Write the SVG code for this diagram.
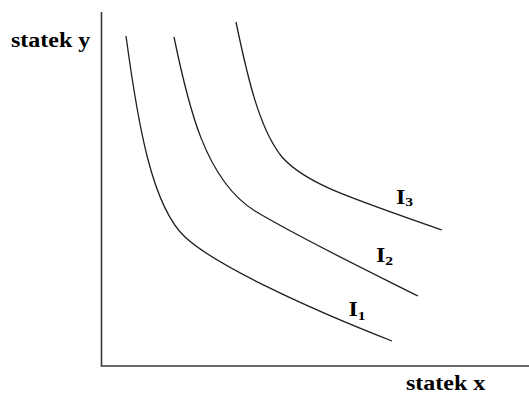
<svg xmlns="http://www.w3.org/2000/svg" width="529" height="394" viewBox="0 0 529 394">
<style>
.axis{fill:none;stroke:#3a3a3a;stroke-width:1.6}
.curve{fill:none;stroke:#1e1e1e;stroke-width:1.3}
.lbl{font-family:"Liberation Serif","Times New Roman",serif;font-weight:bold;font-size:20px;fill:#000}
.sub{font-size:13px}
</style>
<rect width="529" height="394" fill="#fff"/>
<g id="axes">
<path class="axis" d="M101.5,12 V366 H529"/>
</g>
<g id="connectors">
<path id="I1-curve" class="curve" d="M126,36 C138,125 152,206 185,237 C214,264 300,305 392,341"/>
<path id="I2-curve" class="curve" d="M174,37 C188,105 205,180 255,211 C300,238 370,272 418,296"/>
<path id="I3-curve" class="curve" d="M236,22 C248,80 260,130 282,157 C305,183 345,196 442,230"/>
</g>
<g id="label-y"><text class="lbl" transform="translate(11,47) scale(1.2,1)">statek y</text></g>
<g id="label-x"><text class="lbl" transform="translate(406,390) scale(1.2,1)">statek x</text></g>
<g id="label-I3"><text class="lbl" transform="translate(396,204) scale(1.2,1)">I<tspan class="sub" dy="2">3</tspan></text></g>
<g id="label-I2"><text class="lbl" transform="translate(376,261.5) scale(1.2,1)">I<tspan class="sub" dy="3">2</tspan></text></g>
<g id="label-I1"><text class="lbl" transform="translate(348.5,315.5) scale(1.2,1)">I<tspan class="sub" dy="4">1</tspan></text></g>
</svg>
